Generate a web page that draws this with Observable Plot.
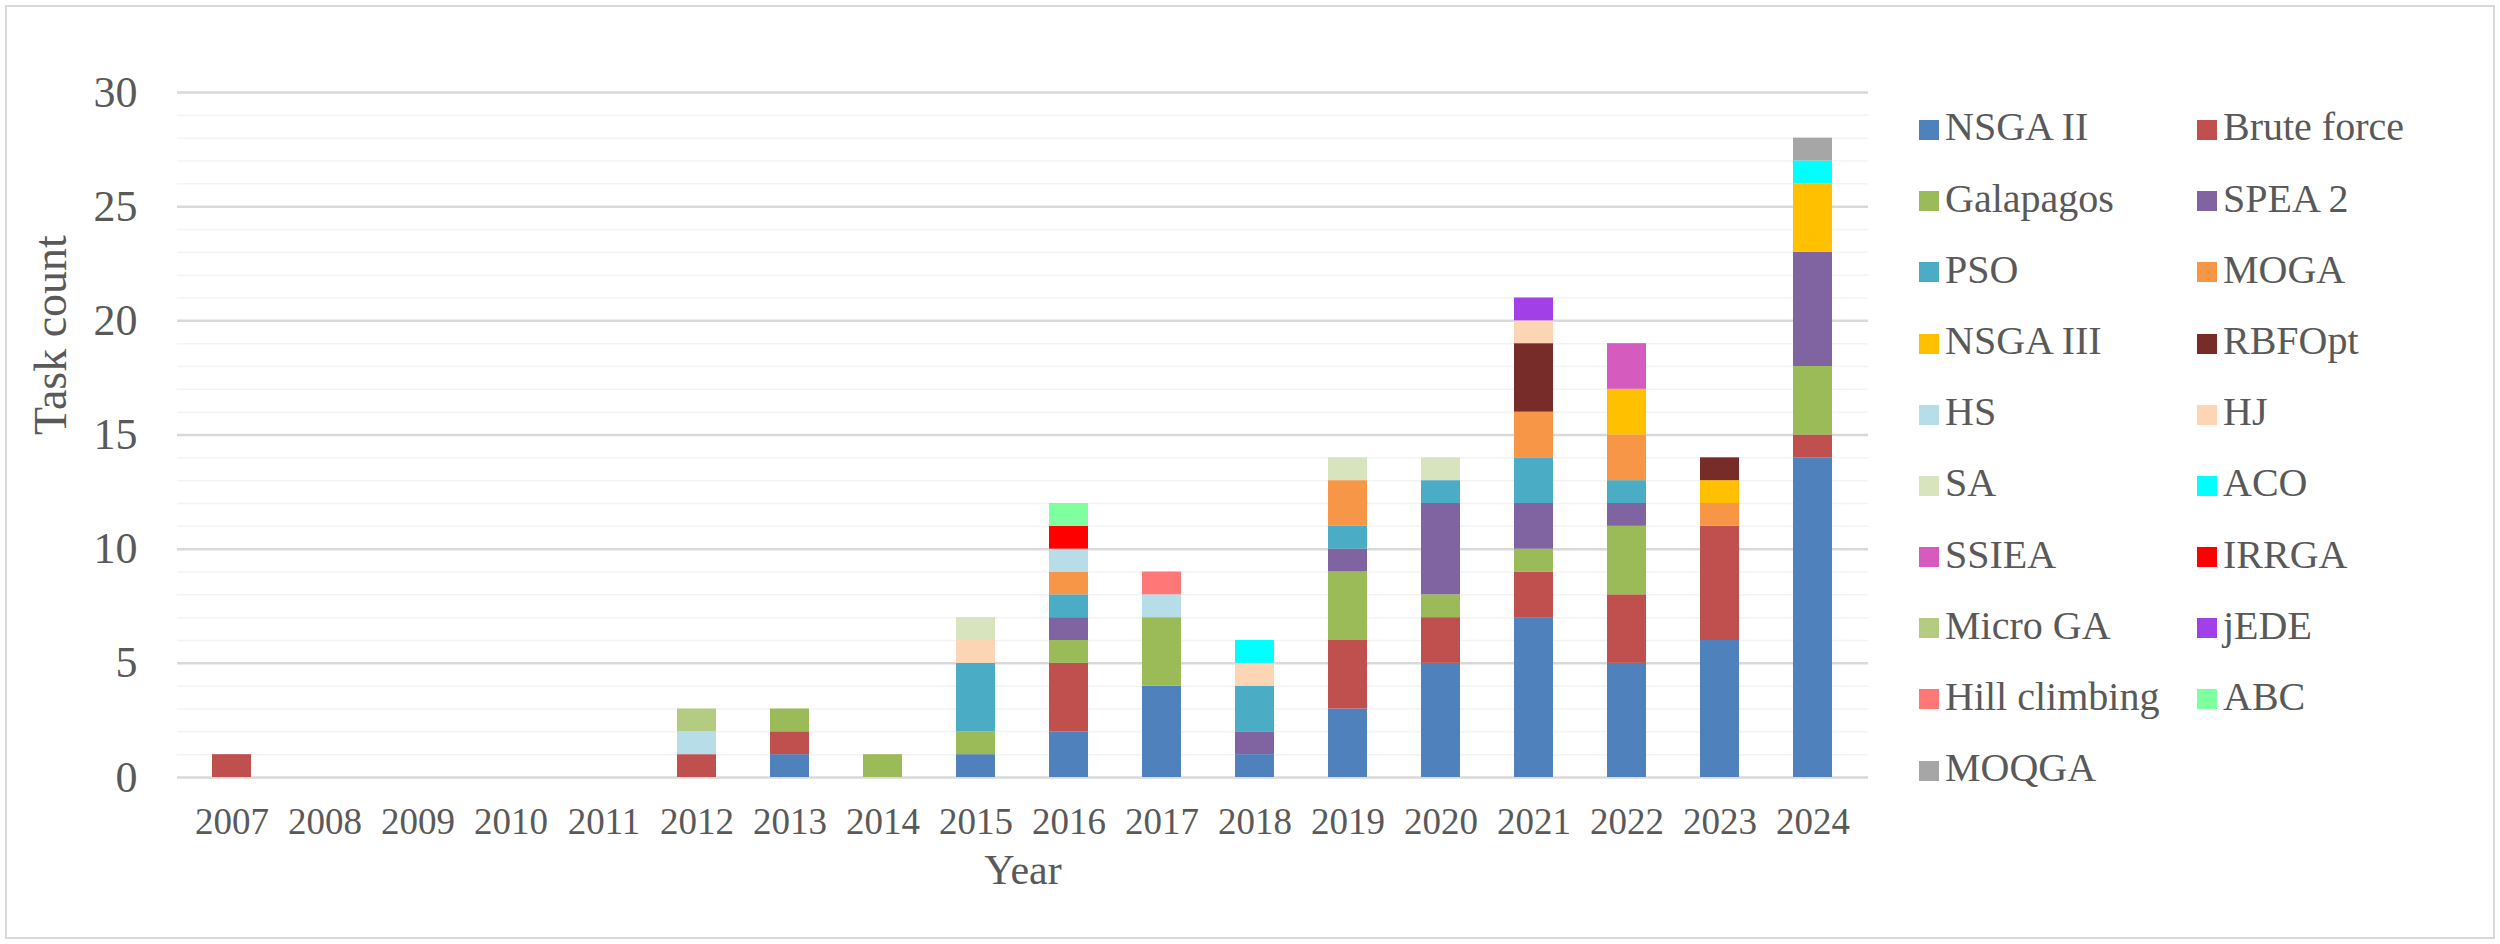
<!DOCTYPE html>
<html>
<head>
<meta charset="utf-8">
<script src="https://cdn.jsdelivr.net/npm/d3@7"></script>
<script src="https://cdn.jsdelivr.net/npm/@observablehq/plot@0.6"></script>
<style>
  html, body { margin: 0; padding: 0; background: #ffffff; }
  #wrap { position: relative; width: 2500px; height: 944px; overflow: hidden; background: #fff; }
  #frame { position: absolute; left: 5px; top: 5px; width: 2486px; height: 930px; border: 2px solid #d9d9d9; box-sizing: content-box; }
  #chart { position: absolute; left: 0; top: 0; }
  #legend { position: absolute; left: 1919px; top: 94.4px; display: grid; grid-template-columns: 278px 278px; grid-auto-rows: 71.2px; align-items: center;
            font-family: "Liberation Serif", "Times New Roman", serif; font-size: 40px; color: #595959; }
  .item { display: flex; align-items: center; white-space: nowrap; }
  .sw { width: 20px; height: 20px; margin-right: 6px; flex: none; }
  .lab { position: relative; top: -3px; }
</style>
</head>
<body>
<div id="wrap">
  <div id="frame"></div>
  <div id="chart"></div>
  <div id="legend"></div>
</div>
<script>
const years = ["2007","2008","2009","2010","2011","2012","2013","2014","2015","2016","2017","2018","2019","2020","2021","2022","2023","2024"];
const methods = ["NSGA II","Brute force","Galapagos","SPEA 2","PSO","MOGA","NSGA III","RBFOpt","HS","HJ","SA","ACO","SSIEA","IRRGA","Micro GA","jEDE","Hill climbing","ABC","MOQGA"];
const colors = ["#4f81bd","#c0504d","#9bbb59","#8064a2","#4bacc6","#f79646","#ffc000","#772c2a","#b7dee8","#fcd5b5","#d7e4bd","#00ffff","#d65bbf","#ff0000","#b3cc82","#a040e6","#ff7777","#80ffa0","#a6a6a6"];

// counts per method, 2007..2024
const nsga2        = [0,0,0,0,0,0,1,0,1,2,4,1,3,5,7,5,6,14];
const bruteForce   = [1,0,0,0,0,1,1,0,0,3,0,0,3,2,2,3,5,1];
const galapagos    = [0,0,0,0,0,0,1,1,1,1,3,0,3,1,1,3,0,3];
const spea2        = [0,0,0,0,0,0,0,0,0,1,0,1,1,4,2,1,0,5];
const pso          = [0,0,0,0,0,0,0,0,3,1,0,2,1,1,2,1,0,0];
const moga         = [0,0,0,0,0,0,0,0,0,1,0,0,2,0,2,2,1,0];
const nsga3        = [0,0,0,0,0,0,0,0,0,0,0,0,0,0,0,2,1,3];
const rbfopt       = [0,0,0,0,0,0,0,0,0,0,0,0,0,0,3,0,1,0];
const hs           = [0,0,0,0,0,1,0,0,0,1,1,0,0,0,0,0,0,0];
const hj           = [0,0,0,0,0,0,0,0,1,0,0,1,0,0,1,0,0,0];
const sa           = [0,0,0,0,0,0,0,0,1,0,0,0,1,1,0,0,0,0];
const aco          = [0,0,0,0,0,0,0,0,0,0,0,1,0,0,0,0,0,1];
const ssiea        = [0,0,0,0,0,0,0,0,0,0,0,0,0,0,0,2,0,0];
const irrga        = [0,0,0,0,0,0,0,0,0,1,0,0,0,0,0,0,0,0];
const microGA      = [0,0,0,0,0,1,0,0,0,0,0,0,0,0,0,0,0,0];
const jede         = [0,0,0,0,0,0,0,0,0,0,0,0,0,0,1,0,0,0];
const hillClimbing = [0,0,0,0,0,0,0,0,0,0,1,0,0,0,0,0,0,0];
const abc          = [0,0,0,0,0,0,0,0,0,1,0,0,0,0,0,0,0,0];
const moqga        = [0,0,0,0,0,0,0,0,0,0,0,0,0,0,0,0,0,1];

const yTicks = [0,5,10,15,20,25,30];
const yTitle = "Task count";
const xTitle = "Year";

const series = [nsga2,bruteForce,galapagos,spea2,pso,moga,nsga3,rbfopt,hs,hj,sa,aco,ssiea,irrga,microGA,jede,hillClimbing,abc,moqga];
const table = [];
series.forEach((vals, i) => vals.forEach((v, j) => { if (v > 0) table.push({year: years[j], method: methods[i], count: v}); }));
const minor = d3.range(0, 31).filter(v => v % 5 !== 0);

const font = "Liberation Serif, Times New Roman, serif";
const plot = Plot.plot({
  width: 2500,
  height: 944,
  marginLeft: 177,
  marginRight: 632,
  marginTop: 92,
  marginBottom: 167,
  style: { fontFamily: font, color: "#595959", background: "transparent", overflow: "visible" },
  x: { domain: years, paddingInner: 0.58, paddingOuter: 0.29, label: null },
  y: { domain: [0, 30], label: null },
  color: { domain: methods, range: colors },
  marks: [
    Plot.ruleY(minor, { stroke: "#f3f3f3", strokeWidth: 1.5 }),
    Plot.ruleY(yTicks, { stroke: "#d9d9d9", strokeWidth: 2.5 }),
    Plot.barY(table, { x: "year", y: "count", fill: "method" }),
    Plot.axisY({ ticks: yTicks, tickSize: 0, tickPadding: 40, fontSize: 44, label: null, fill: "#595959" }),
    Plot.axisX({ tickSize: 0, tickPadding: 30, fontSize: 37, label: null, fill: "#595959" }),
    Plot.text([yTitle], { text: d => d, frameAnchor: "left", dx: -126, rotate: -90, fontSize: 46, fill: "#595959" }),
    Plot.text([xTitle], { text: d => d, frameAnchor: "bottom", dy: 106, fontSize: 42, fill: "#595959" })
  ]
});
document.getElementById("chart").appendChild(plot);

const legend = document.getElementById("legend");
const colorScale = plot.scale("color");
methods.forEach((m, i) => {
  const item = document.createElement("div");
  item.className = "item";
  const sw = document.createElement("span");
  sw.className = "sw";
  sw.style.background = colorScale.range[i];
  const label = document.createElement("span");
  label.className = "lab";
  label.textContent = m;
  item.appendChild(sw);
  item.appendChild(label);
  legend.appendChild(item);
});
</script>
</body>
</html>
